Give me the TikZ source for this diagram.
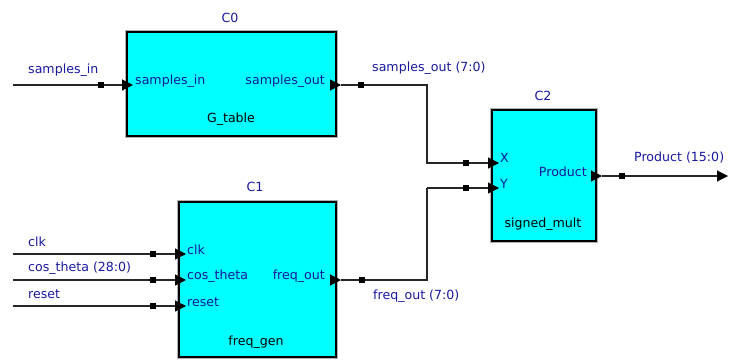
\documentclass[tikz,border=0pt]{standalone}
\usepackage{fontspec}
\setmainfont{DejaVu Sans}
\usetikzlibrary{arrows.meta}
\definecolor{txtblue}{RGB}{24,24,160}
\definecolor{boxcyan}{RGB}{0,255,255}
\begin{document}
\begin{tikzpicture}[x=1pt,y=-1pt,
  block/.style={draw=black, line width=2pt, fill=boxcyan, inner sep=0pt,
    preaction={draw=gray!60, line width=3.6pt}},
  wire/.style={line width=1.1pt, draw=black!85},
  arr/.style={-{Triangle[length=11pt,width=11pt,fill=black,color=black]}},
  sq/.style={rectangle, fill=black, minimum size=5.5pt, inner sep=0pt},
  lbl/.style={text=txtblue, inner sep=0pt, font=\fontsize{12.6}{14}\selectfont},
  blk/.style={text=black, inner sep=0pt, font=\fontsize{12.6}{14}\selectfont}]
\useasboundingbox (0,0) rectangle (733,359);

% blocks
\node[block, minimum width=209pt, minimum height=104pt] (c0) at (231.5,84) {};
\node[block, minimum width=157pt, minimum height=155pt] (c1) at (257.5,279.5) {};
\node[block, minimum width=104pt, minimum height=131pt] (c2) at (544,175.5) {};

% titles
\node[lbl] (t0) at (230,17.5) {C0};
\node[lbl] (t1) at (255,187) {C1};
\node[lbl] (t2) at (543,96) {C2};
\node[blk] (n0) at (231,119) {G\_table};
\node[blk] (n1) at (256,342) {freq\_gen};
\node[blk] (n2) at (543,224) {signed\_mult};

% port labels
\node[lbl, anchor=west] (p0i) at (135,81) {samples\_in};
\node[lbl, anchor=east] (p0o) at (325,81) {samples\_out};
\node[lbl, anchor=west] (p1c) at (187,250) {clk};
\node[lbl, anchor=west] (p1t) at (187,276) {cos\_theta};
\node[lbl, anchor=west] (p1r) at (187,302) {reset};
\node[lbl, anchor=east] (p1o) at (325,276) {freq\_out};
\node[lbl, anchor=west] (p2x) at (500,158) {X};
\node[lbl, anchor=west] (p2y) at (500,184) {Y};
\node[lbl, anchor=east] (p2o) at (587,172) {Product};

% net labels
\node[lbl, anchor=west] (l1) at (28,70) {samples\_in};
\node[lbl, anchor=west] (l2) at (372,68) {samples\_out (7:0)};
\node[lbl, anchor=west] (l3) at (634,158) {Product (15:0)};
\node[lbl, anchor=west] (l4) at (28,242) {clk};
\node[lbl, anchor=west] (l5) at (28,268) {cos\_theta (28:0)};
\node[lbl, anchor=west] (l6) at (28,294) {reset};
\node[lbl, anchor=west] (l7) at (373,296) {freq\_out (7:0)};

% coordinates
\coordinate (sin) at (13,85);
\coordinate (c0in) at (133,85);
\coordinate (c0oB) at (330,85);
\coordinate (c0o) at (341,85);
\coordinate (j1) at (427,85);
\coordinate (c2x) at (499,163);
\coordinate (j2) at (427,188);
\coordinate (c2y) at (499,188);
\coordinate (c1oB) at (330,280);
\coordinate (c1o) at (341,280);
\coordinate (c2oB) at (591,176);
\coordinate (c2o) at (602,176);
\coordinate (pout) at (728,176);
\coordinate (clkin) at (13,254);
\coordinate (costin) at (13,280);
\coordinate (rstin) at (13,306);
\coordinate (c1clk) at (186,254);
\coordinate (c1cos) at (186,280);
\coordinate (c1rst) at (186,306);

% wires
\draw[wire, arr] (sin) -- (c0in);
\draw[wire, arr] (c0oB) -- (c0o);
\draw[wire, arr] (c0o) -- (j1) |- (c2x);
\draw[wire, arr] (c1oB) -- (c1o);
\draw[wire] (c1o) -| (j2);
\draw[wire, arr] (j2) -- (c2y);
\draw[wire, arr] (c2oB) -- (c2o);
\draw[wire, arr] (c2o) -- (pout);
\draw[wire, arr] (clkin) -- (c1clk);
\draw[wire, arr] (costin) -- (c1cos);
\draw[wire, arr] (rstin) -- (c1rst);

% net squares
\node[sq] (s1) at (101,85) {};
\node[sq] (s2) at (361,85) {};
\node[sq] (s3) at (466,163) {};
\node[sq] (s4) at (466,188) {};
\node[sq] (s5) at (362,280) {};
\node[sq] (s6) at (622,176) {};
\node[sq] (s7) at (153,254) {};
\node[sq] (s8) at (153,280) {};
\node[sq] (s9) at (153,306) {};
\end{tikzpicture}
\end{document}
